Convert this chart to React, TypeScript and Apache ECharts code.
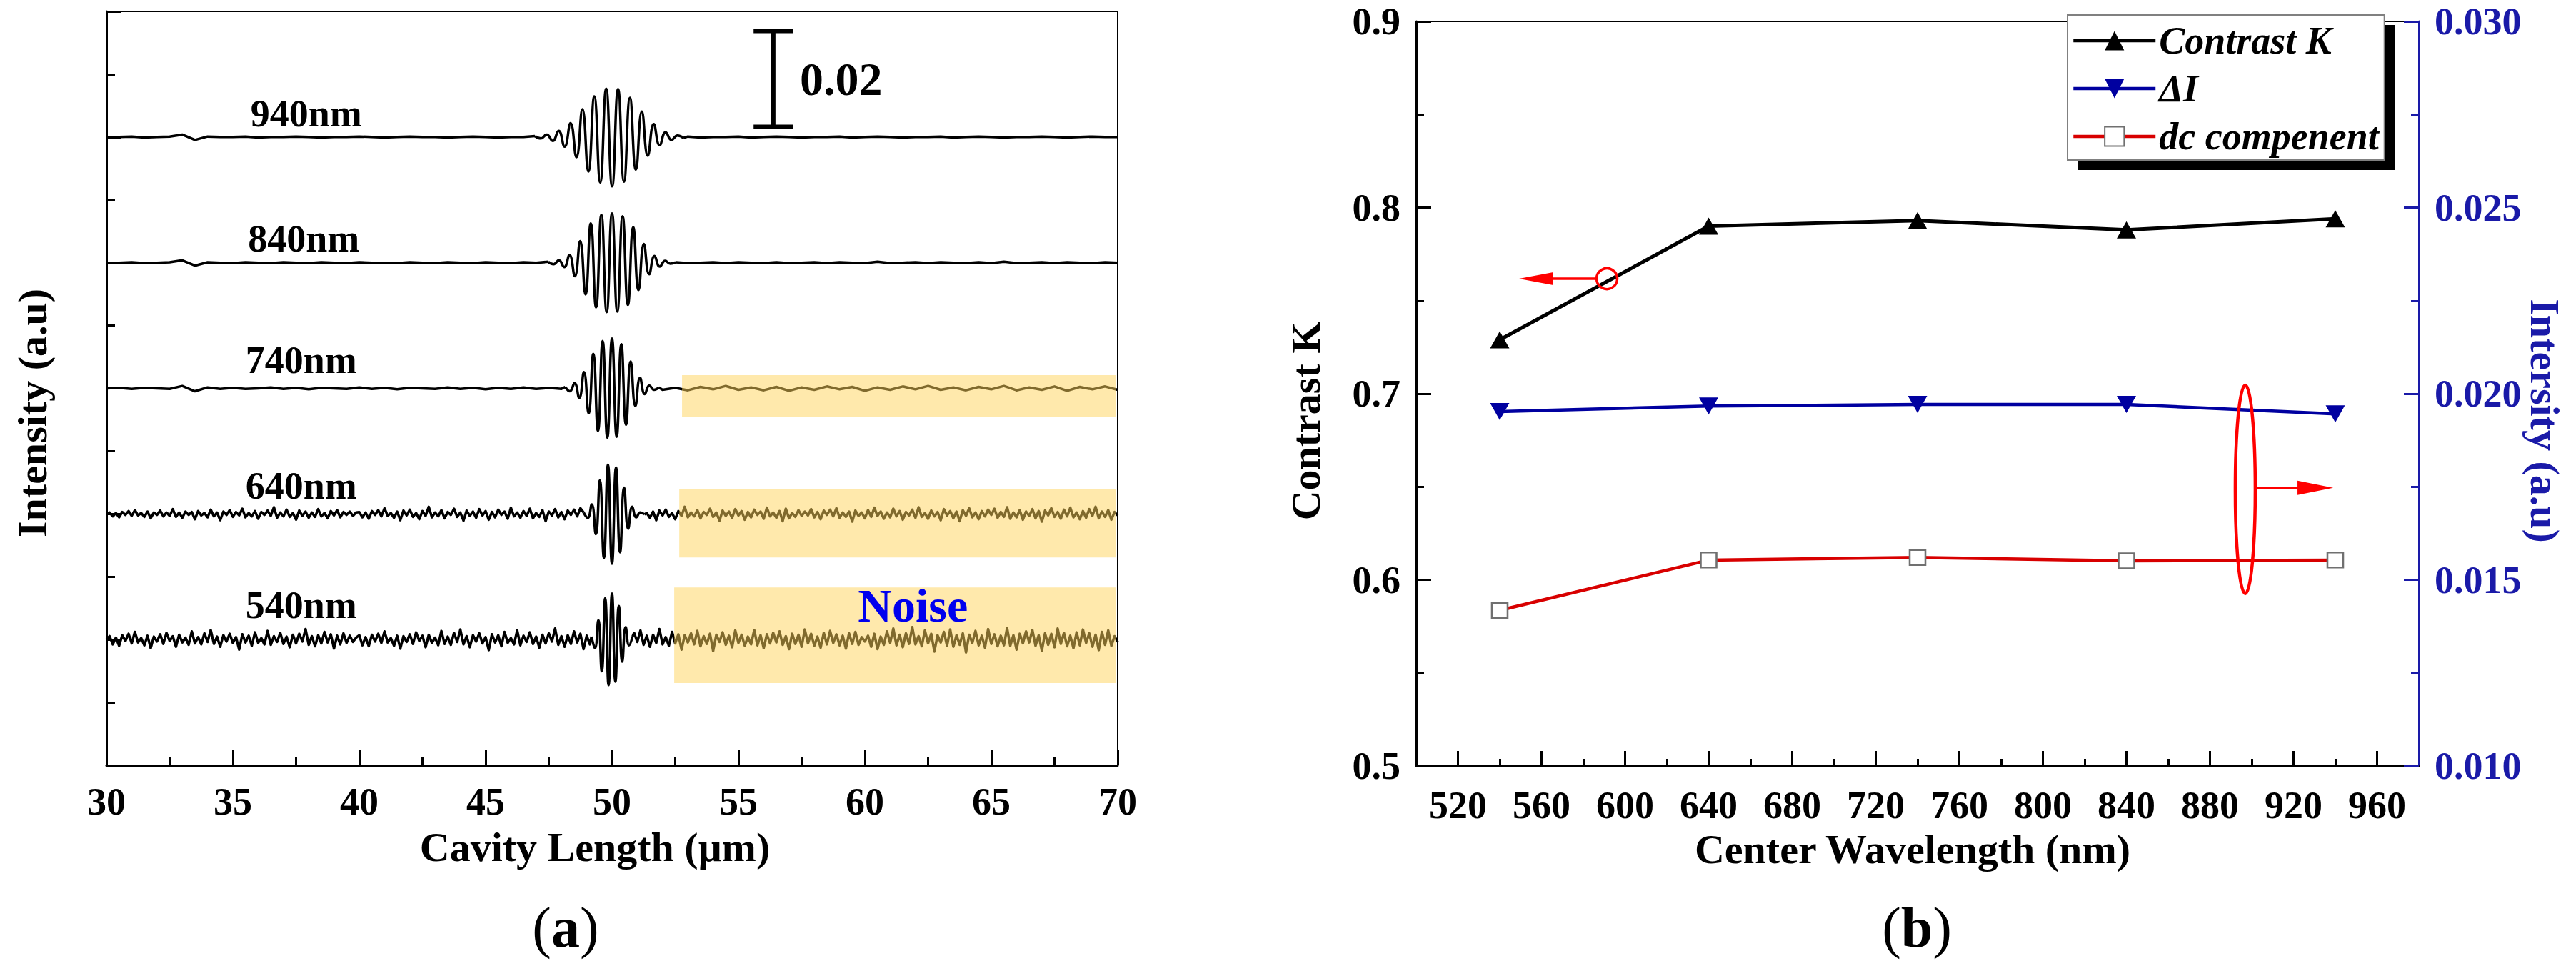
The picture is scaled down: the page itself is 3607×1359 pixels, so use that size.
import React, { useEffect, useRef } from 'react';
import * as echarts from 'echarts';

const FONT = 'Liberation Serif, Times New Roman, Times, serif';

// ---------------- Panel (a): interferograms ----------------
const LABELS_A = ['540nm', '640nm', '740nm', '840nm', '940nm'];
const BASELINES = [0.02625, 0.0525, 0.07875, 0.105, 0.13125];
const UNIT = 1e-4; // packet / noise values below are in 1e-4 a.u.

// fringe packets: extrema (alternating sign)
const PACKET_START = [49.19, 48.88, 48.15, 47.48, 46.95];
const PACKET_STEP = [0.135, 0.16, 0.185, 0.21, 0.235];
const P540 = [6, -18, 40, -66, 86, -95, 96, -88, 70, -46, 26, -12, 6];
const P640 = [3, -8, 20, -42, 70, -92, 103, -104, 97, -80, 55, -31, 15, -7, 3, -1];
const P740 = [3, -6, 11, -20, 34, -52, 72, -89, 99, -103, 104, -101, 92, -76, 56, -37, 22, -12, 6, -3, 2];
const P840 = [2, -3, 5, -9, 16, -28, 45, -66, 82, -93, 100, -103, 103, -102, 97, -88, 74, -57, 39, -24, 14, -8, 4, -2, 1];
const P940 = [2, -3, 5, -8, 13, -20, 29, -42, 58, -72, 85, -95, 101, -103, 100, -93, 82, -68, 53, -39, 27, -17, 10, -6, 3, -2];

// background noise samples (left of packet from 30 µm, right of packet up to 70 µm)
const NOISE_STEP = [0.125, 0.125, 0.5, 0.5, 0.5];
const N540_PRE = [
  0, 7, -10, 4, -13, 9, -3, 12, -8, 16, -6, 3, -12, 8, -18, 6, -4, 11, -9, 14,
  -3, 7, -15, 10, -6, 4, -11, 17, -8, 5, -10, 13, -5, 20, -9, 6, -15, 9, -4, 12,
  -7, 5, -21, 11, -6, 8, -13, 15, -7, 3, -10, 18, -11, 7, -5, 14, -9, 6, -16, 10,
  -8, 12, -4, 22, -11, 7, -14, 9, -8, 16, -6, 11, -19, 8, -10, 13, -7, 8, -5, 4,
  9, -12, 5, -14, 10, -4, 12, -7, 17, -6, 3, -13, 8, -19, 7, -5, 11, -9, 15, -3,
  8, -16, 10, -7, 4, -12, 18, -9, 6, -11, 14, -5, 21, -10, 7, -16, 9, -4, 13, -8,
  5, -22, 11, -6, 9, -14, 16, -7, 3, -10, 19, -12, 8, -5, 15, -9, 6, -17, 10, -8,
  13, -4, 23, -11, 7, -15, 9, -9, 17, -6, 12, -20, 8, -10, 14, -7, 9, -5, 4, -3];
const N540_POST = [
  7, -12, 9, -16, 6, -9, 14, -5, 19, -11, 8, -15, 10, -7, 22, -10, 5, -13, 16, -8,
  11, -21, 9, -6, 13, -10, 18, -14, 7, -9, 12, -24, 10, -5, 15, -11, 8, -16, 19, -7,
  10, -13, 6, -10, 20, -12, 9, -18, 11, -8, 14, -6, 17, -11, 7, -20, 12, -9, 10, -15,
  21, -8, 12, -13, 6, -17, 14, -10, 18, -7, 11, -12, 8, -19, 13, -9, 16, -11, 5, -4,
  8, -15, 12, -20, 6, -11, 17, -7, 23, -12, 10, -16, 13, -9, 26, -10, 7, -14, 19, -8,
  12, -25, 9, -6, 16, -13, 21, -15, 9, -11, 13, -27, 10, -7, 18, -12, 8, -17, 22, -9,
  11, -14, 8, -12, 24, -13, 9, -21, 12, -8, 17, -6, 20, -13, 9, -23, 13, -11, 12, -16,
  23, -9, 14, -14, 8, -18, 15, -12, 21, -7, 13, -15, 10, -22, 16, -11, 19, -13, 7, -5];
const N640_PRE = [
  0, 3, -5, 2, -7, 4, -2, 6, -4, 8, -3, 2, -6, 5, -9, 3, -2, 7, -5, 3,
  -4, 10, -6, 3, -8, 5, -2, 4, -11, 6, -3, 2, -7, 9, -5, 3, -13, 5, -2, 8,
  -6, 4, -3, 11, -7, 2, -5, 6, -10, 4, -2, 7, -4, 14, -8, 3, -5, 9, -6, 2,
  -12, 7, -4, 5, -8, 3, -6, 10, -5, 2, -9, 6, -3, 8, -7, 4, -2, 5, -4, 3,
  4, -7, 3, -10, 6, -2, 8, -5, 12, -4, 2, -8, 5, -13, 7, -3, 9, -6, 2, -11,
  6, -4, 15, -7, 3, -5, 8, -9, 4, -2, 11, -6, 3, -14, 7, -4, 5, -8, 10, -3,
  6, -12, 4, -7, 9, -2, 5, -10, 13, -5, 3, -8, 6, -4, 11, -9, 2, -6, 8, -15,
  5, -3, 10, -7, 4, -11, 7, -2, 9, -5, 12, -8, 3, -6, 5, -10, 7, -4, 3, -2];
const N640_POST = [
  4, -7, 3, -10, 6, -2, 8, -5, 12, -4, 2, -8, 5, -13, 7, -3, 9, -6, 2, -11,
  6, -4, 15, -7, 3, -5, 8, -9, 4, -2, 11, -6, 3, -14, 7, -4, 5, -8, 10, -3,
  6, -12, 4, -7, 9, -2, 5, -10, 13, -5, 3, -8, 6, -15, 11, -9, 2, -6, 8, -4,
  5, -3, 10, -7, 4, -11, 7, -2, 9, -5, 12, -8, 3, -6, 5, -16, 7, -4, 3, -9,
  8, -6, 13, -4, 5, -10, 3, -7, 11, -5, 6, -12, 4, -3, 9, -8, 14, -6, 2, -10,
  7, -5, 4, -13, 10, -3, 6, -9, 5, -15, 8, -4, 12, -7, 3, -11, 6, -5, 9, -2,
  11, -8, 4, -6, 14, -10, 3, -7, 8, -12, 5, -4, 10, -9, 6, -16, 7, -3, 12, -6,
  4, -10, 9, -5, 13, -7, 3, -11, 6, -8, 10, -4, 15, -9, 5, -6, 8, -12, 4, -3];
const N740_PRE = [0, 1, -1, 1, 0, -1, 5, -6, 2, -1, 1, -1, 0, 2, -1, 1, -2, 1, 0, -1,
  2, -1, 1, -2, 1, 0, -1, 2, -1, 1, -2, 1, -1, 2, -1, 1, -1, 0];
const N740_POST = [2, -3, 1, -4, 3, -2, 5, -3, 2, -4, 3, -5, 2, -3, 4, -2, 3, -5, 2, -3,
  4, -2, 5, -3, 2, -4, 3, -2, 5, -4, 2, -3, 4, -5, 3, -2, 4, -3];
const N840_PRE = [0, 0, 1, -1, 0, 1, 5, -6, 1, 0, -1, 1, 0, -1, 1, 0, -1, 1, 0, -1,
  1, 0, 0, -1, 1, 0, -1, 1, 0, -1, 1, 0, -1, 1, 0];
const N840_POST = [1, -1, 0, 1, -1, 1, 0, -1, 1, -1, 0, 1, -1, 1, 0, -1, 2, -1, 0, 1,
  -1, 1, 0, -1, 1, -1, 2, -1, 0, 1, -1, 1, 0, -1, 1, 0];
const N940_PRE = [0, 0, 1, -1, 0, 1, 5, -6, 1, 0, 0, 1, -1, 0, 0, 1, 0, -1, 0, 0,
  1, 0, -1, 0, 1, 0, 0, -1, 0, 1, 0, -1, 0, 0, 1];
const N940_POST = [0, 1, -1, 0, 0, 1, -1, 0, 1, 0, -1, 0, 0, 1, -1, 0, 1, 0, -1, 0,
  0, 1, -1, 0, 1, 0, -1, 0, 0, 1, 0, -1, 0, 1, 0, 0];

const PACKETS = [P540, P640, P740, P840, P940];
const NOISE_PRE = [N540_PRE, N640_PRE, N740_PRE, N840_PRE, N940_PRE];
const NOISE_POST = [N540_POST, N640_POST, N740_POST, N840_POST, N940_POST];

// annotations of panel (a)
const LABEL_X = [35.5, 35.5, 35.5, 35.6, 35.7];
const LABEL_Y = [0.0334, 0.0583, 0.0847, 0.1101, 0.1362];
const NOISE_BOX_X0 = [52.46, 52.66, 52.77];
const NOISE_BOX_TOP = [0.03715, 0.05774, 0.0815];
const NOISE_BOX_BOTTOM = [0.01716, 0.04342, 0.0728];
const NOISE_TEXT_POS = [61.9, 0.0334];
const SCALE_BAR_X = 56.38;
const SCALE_BAR_Y = [0.1334, 0.1534];
const SCALE_BAR_CAP = 0.78;
const SCALE_BAR_TEXT = [57.43, 0.1434];

// ---------------- Panel (b) ----------------
const WL_B = [540, 640, 740, 840, 940];
const CONTRAST_K = [0.729, 0.79, 0.793, 0.788, 0.794];
const DELTA_I = [0.01952, 0.01967, 0.01971, 0.01971, 0.01946];
const DC_COMP = [0.01418, 0.01553, 0.0156, 0.01551, 0.01553];
const MAJOR_B = [520, 560, 600, 640, 680, 720, 760, 800, 840, 880, 920, 960];
const MINOR_B = [540, 580, 620, 660, 700, 740, 780, 820, 860, 900, 940];

const CIRCLE_B = [591.3, 0.7618];
const LEFT_ARROW_TIP = 549.2;
const ELLIPSE_B = [896.9, 0.01743];
const RIGHT_ARROW = [939.0, 0.01747];

const GA = { left: 149, top: 16, width: 1416, height: 1055 };
const GB = { left: 1983, top: 30, width: 1404, height: 1042 };
const BLUE = '#1A1AA8';

function buildTraceParts(k: number): number[][][] {
  const base = BASELINES[k];
  const s = NOISE_STEP[k];
  const pk = PACKETS[k];
  const start = PACKET_START[k];
  const h = PACKET_STEP[k];
  const end = start + (pk.length - 1) * h;
  const packet: number[][] = pk.map((v, i) => [start + i * h, base + v * UNIT]);
  const pre: number[][] = [];
  NOISE_PRE[k].forEach((v, i) => {
    const x = 30 + i * s;
    if (x < start - 0.05) pre.push([x, base + v * UNIT]);
  });
  pre.push(packet[0]);
  const post: number[][] = [packet[packet.length - 1]];
  const arr = NOISE_POST[k];
  arr.forEach((v, i) => {
    const x = 70 - (arr.length - 1 - i) * s;
    if (x > end + 0.05) post.push([x, base + v * UNIT]);
  });
  return [pre, packet, post];
}

const labelFont = { fontFamily: FONT, fontWeight: 'bold' as const, fontSize: 54, color: '#000' };
const blackLine = { color: '#000', width: 3 };

function buildOption(): any {
  const seriesA: any[] = [];
  LABELS_A.forEach((name, k) => {
    const parts = buildTraceParts(k);
    parts.forEach((data, j) => {
      seriesA.push({
        name,
        type: 'line',
        xAxisIndex: 0,
        yAxisIndex: 0,
        data,
        showSymbol: false,
        symbol: 'none',
        smooth: j === 1 ? 0.5 : false,
        lineStyle: { color: '#000', width: 3.5, join: 'round' },
        z: 2,
      });
    });
  });
  const seriesB = [
    {
      name: 'Contrast K', type: 'line', xAxisIndex: 1, yAxisIndex: 1,
      data: WL_B.map((w, i) => [w, CONTRAST_K[i]]),
      symbol: 'triangle', symbolSize: [27, 24],
      itemStyle: { color: '#000' }, lineStyle: { color: '#000', width: 5 }, z: 3,
    },
    {
      name: 'ΔI', type: 'line', xAxisIndex: 1, yAxisIndex: 2,
      data: WL_B.map((w, i) => [w, DELTA_I[i]]),
      symbol: 'triangle', symbolRotate: 180, symbolSize: [27, 24],
      itemStyle: { color: '#0000A0' }, lineStyle: { color: '#0000A0', width: 4.5 }, z: 3,
    },
    {
      name: 'dc compenent', type: 'line', xAxisIndex: 1, yAxisIndex: 2,
      data: WL_B.map((w, i) => [w, DC_COMP[i]]),
      symbol: 'rect', symbolSize: [22, 21],
      itemStyle: { color: '#fff', borderColor: '#707070', borderWidth: 2.5 },
      lineStyle: { color: '#D80000', width: 4.5 }, z: 3,
    },
  ];
  return {
    animation: false,
    backgroundColor: '#fff',
    textStyle: { fontFamily: FONT },
    grid: [
      { ...GA, show: true, borderColor: '#000', borderWidth: 2, backgroundColor: 'transparent' },
      { ...GB, show: true, borderColor: '#000', borderWidth: 2, backgroundColor: 'transparent' },
    ],
    xAxis: [
      {
        type: 'value', gridIndex: 0, min: 30, max: 70, interval: 5,
        axisLine: { lineStyle: blackLine },
        axisTick: { inside: true, length: 21, lineStyle: blackLine },
        minorTick: { show: true, splitNumber: 2, length: 11, lineStyle: blackLine },
        splitLine: { show: false },
        axisLabel: { ...labelFont, margin: 24 },
      },
      {
        type: 'value', gridIndex: 1, min: 500, max: 980, interval: 20, position: 'bottom',
        axisLine: { lineStyle: blackLine },
        axisTick: { inside: true, length: 21, lineStyle: blackLine, customValues: MAJOR_B },
        splitLine: { show: false },
        axisLabel: {
          ...labelFont, margin: 28, customValues: MAJOR_B,
          formatter: (v: number) => ((v - 520) % 40 === 0 ? String(v) : ''),
        },
      },
      {
        type: 'value', gridIndex: 1, min: 500, max: 980, interval: 20, position: 'bottom',
        axisLine: { show: false },
        axisTick: { inside: true, length: 10, lineStyle: blackLine, customValues: MINOR_B },
        splitLine: { show: false },
        axisLabel: { show: false },
      },
    ],
    yAxis: [
      {
        type: 'value', gridIndex: 0, min: 0, max: 0.1575, interval: 0.02625,
        axisLine: { lineStyle: blackLine },
        axisTick: { inside: true, length: 21, lineStyle: blackLine },
        minorTick: { show: true, splitNumber: 2, length: 12, lineStyle: blackLine },
        splitLine: { show: false },
        axisLabel: { show: false },
      },
      {
        type: 'value', gridIndex: 1, position: 'left', min: 0.5, max: 0.9, interval: 0.1,
        axisLine: { lineStyle: blackLine },
        axisTick: { inside: true, length: 21, lineStyle: blackLine },
        minorTick: { show: true, splitNumber: 2, length: 11, lineStyle: blackLine },
        splitLine: { show: false },
        axisLabel: { ...labelFont, margin: 22, formatter: (v: number) => v.toFixed(1) },
      },
      {
        type: 'value', gridIndex: 1, position: 'right', min: 0.01, max: 0.03, interval: 0.005,
        axisLine: { lineStyle: { color: BLUE, width: 3 } },
        axisTick: { inside: true, length: 21, lineStyle: { color: BLUE, width: 3 } },
        minorTick: { show: true, splitNumber: 2, length: 11, lineStyle: { color: BLUE, width: 3 } },
        splitLine: { show: false },
        axisLabel: { ...labelFont, color: BLUE, margin: 22, formatter: (v: number) => v.toFixed(3) },
      },
    ],
    legend: {
      show: true,
      data: ['Contrast K', 'ΔI', 'dc compenent'],
      orient: 'vertical',
      left: 2895,
      top: 21,
      padding: [8, 8, 5, 6],
      itemWidth: 115,
      itemHeight: 34,
      itemGap: 11,
      itemTextGap: 13,
      backgroundColor: '#fff',
      borderColor: '#808080',
      borderWidth: 2,
      borderRadius: 0,
      selectedMode: false,
      lineStyle: { width: 4.5 },
      textStyle: {
        fontFamily: FONT, fontSize: 54, fontStyle: 'italic', fontWeight: 'bold',
        color: '#000', lineHeight: 56,
      },
      z: 6,
    },
    series: [...seriesA, ...seriesB],
  };
}

function txt(x: number, y: number, text: string, opts: any = {}): any {
  const align = opts.align || 'center';
  const valign = opts.valign || 'middle';
  return {
    type: 'text',
    x, y,
    rotation: opts.rotation || 0,
    z: opts.z || 20,
    style: {
      text,
      fill: opts.fill || '#000',
      fontFamily: FONT,
      fontWeight: opts.weight || 'bold',
      fontStyle: opts.style || 'normal',
      fontSize: opts.size || 58,
      align, textAlign: align,
      verticalAlign: valign, textVerticalAlign: valign,
      rich: opts.rich,
    },
  };
}

function buildGraphics(chart: any): any[] {
  const pA = (x: number, y: number) => chart.convertToPixel({ xAxisIndex: 0, yAxisIndex: 0 }, [x, y]);
  const pBL = (x: number, y: number) => chart.convertToPixel({ xAxisIndex: 1, yAxisIndex: 1 }, [x, y]);
  const pBR = (x: number, y: number) => chart.convertToPixel({ xAxisIndex: 1, yAxisIndex: 2 }, [x, y]);
  const g: any[] = [];

  // yellow "noise" boxes (semi-transparent over the traces)
  NOISE_BOX_X0.forEach((x0, i) => {
    const a = pA(x0, NOISE_BOX_TOP[i]);
    const b = pA(69.94, NOISE_BOX_BOTTOM[i]);
    g.push({
      type: 'rect', z: 10,
      shape: { x: a[0], y: a[1], width: b[0] - a[0], height: b[1] - a[1] },
      style: { fill: 'rgba(255, 212, 90, 0.5)' },
    });
  });
  const np = pA(NOISE_TEXT_POS[0], NOISE_TEXT_POS[1]);
  g.push(txt(np[0], np[1], 'Noise', { size: 66, fill: '#0000EE', z: 12 }));

  // wavelength labels
  LABELS_A.forEach((t, k) => {
    const p = pA(LABEL_X[k], LABEL_Y[k]);
    g.push(txt(p[0], p[1], t, { size: 54, align: 'left' }));
  });

  // scale bar
  const s1 = pA(SCALE_BAR_X, SCALE_BAR_Y[0]);
  const s2 = pA(SCALE_BAR_X, SCALE_BAR_Y[1]);
  const c1 = pA(SCALE_BAR_X - SCALE_BAR_CAP, SCALE_BAR_Y[0]);
  const c2 = pA(SCALE_BAR_X + SCALE_BAR_CAP, SCALE_BAR_Y[0]);
  const c3 = pA(SCALE_BAR_X - SCALE_BAR_CAP, SCALE_BAR_Y[1]);
  const c4 = pA(SCALE_BAR_X + SCALE_BAR_CAP, SCALE_BAR_Y[1]);
  const barStyle = { stroke: '#000', lineWidth: 6 };
  g.push({ type: 'line', z: 10, shape: { x1: s1[0], y1: s1[1], x2: s2[0], y2: s2[1] }, style: barStyle });
  g.push({ type: 'line', z: 10, shape: { x1: c1[0], y1: c1[1], x2: c2[0], y2: c2[1] }, style: barStyle });
  g.push({ type: 'line', z: 10, shape: { x1: c3[0], y1: c3[1], x2: c4[0], y2: c4[1] }, style: barStyle });
  const sb = pA(SCALE_BAR_TEXT[0], SCALE_BAR_TEXT[1]);
  g.push(txt(sb[0], sb[1], '0.02', { size: 66, align: 'left' }));

  // axis titles and panel letters
  g.push(txt(45, 578, 'Intensity (a.u)', { rotation: Math.PI / 2 }));
  g.push(txt(833, 1185, 'Cavity Length (μm)'));
  g.push(txt(1828, 589, 'Contrast K', { rotation: Math.PI / 2 }));
  g.push(txt(3563, 589, 'Intersity (a.u)', { rotation: -Math.PI / 2, fill: BLUE }));
  g.push(txt(2678, 1188, 'Center Wavelength (nm)'));
  const letterRich = {
    p: { fontFamily: FONT, fontSize: 80, fontWeight: 'normal', fill: '#000' },
    b: { fontFamily: FONT, fontSize: 80, fontWeight: 'bold', fill: '#000' },
  };
  g.push(txt(792, 1298, '{p|(}{b|a}{p|)}', { size: 80, rich: letterRich }));
  g.push(txt(2684, 1298, '{p|(}{b|b}{p|)}', { size: 80, rich: letterRich }));

  // legend shadow
  g.push({ type: 'rect', z: 3, shape: { x: 2909, y: 35, width: 445, height: 203 }, style: { fill: '#000' } });

  // red circle + arrow to the left axis
  const cc = pBL(CIRCLE_B[0], CIRCLE_B[1]);
  const tipL = pBL(LEFT_ARROW_TIP, CIRCLE_B[1]);
  const red = '#FF0000';
  g.push({ type: 'circle', z: 10, shape: { cx: cc[0], cy: cc[1], r: 14.5 }, style: { stroke: red, lineWidth: 3.5, fill: 'none' } });
  g.push({ type: 'line', z: 10, shape: { x1: cc[0] - 14.5, y1: cc[1], x2: tipL[0] + 40, y2: cc[1] }, style: { stroke: red, lineWidth: 3.5 } });
  g.push({ type: 'polygon', z: 10, shape: { points: [[tipL[0], cc[1]], [tipL[0] + 48, cc[1] - 9], [tipL[0] + 48, cc[1] + 9]] }, style: { fill: red } });

  // red ellipse + arrow to the right axis
  const ec = pBR(ELLIPSE_B[0], ELLIPSE_B[1]);
  const tipR = pBR(RIGHT_ARROW[0], RIGHT_ARROW[1]);
  g.push({ type: 'ellipse', z: 10, shape: { cx: ec[0], cy: ec[1], rx: 14, ry: 146 }, style: { stroke: red, lineWidth: 4.5, fill: 'none' } });
  g.push({ type: 'line', z: 10, shape: { x1: ec[0] + 14, y1: tipR[1], x2: tipR[0] - 40, y2: tipR[1] }, style: { stroke: red, lineWidth: 3.5 } });
  g.push({ type: 'polygon', z: 10, shape: { points: [[tipR[0], tipR[1]], [tipR[0] - 50, tipR[1] - 10], [tipR[0] - 50, tipR[1] + 10]] }, style: { fill: red } });

  return g;
}

export default function App() {
  const ref = useRef<HTMLDivElement>(null);
  useEffect(() => {
    document.body.style.margin = '0';
    const chart = echarts.init(ref.current as HTMLDivElement, null, { renderer: 'svg' });
    chart.setOption(buildOption());
    chart.setOption({ graphic: buildGraphics(chart) });
    return () => chart.dispose();
  }, []);
  return <div ref={ref} style={{ width: 3607, height: 1359 }} />;
}
